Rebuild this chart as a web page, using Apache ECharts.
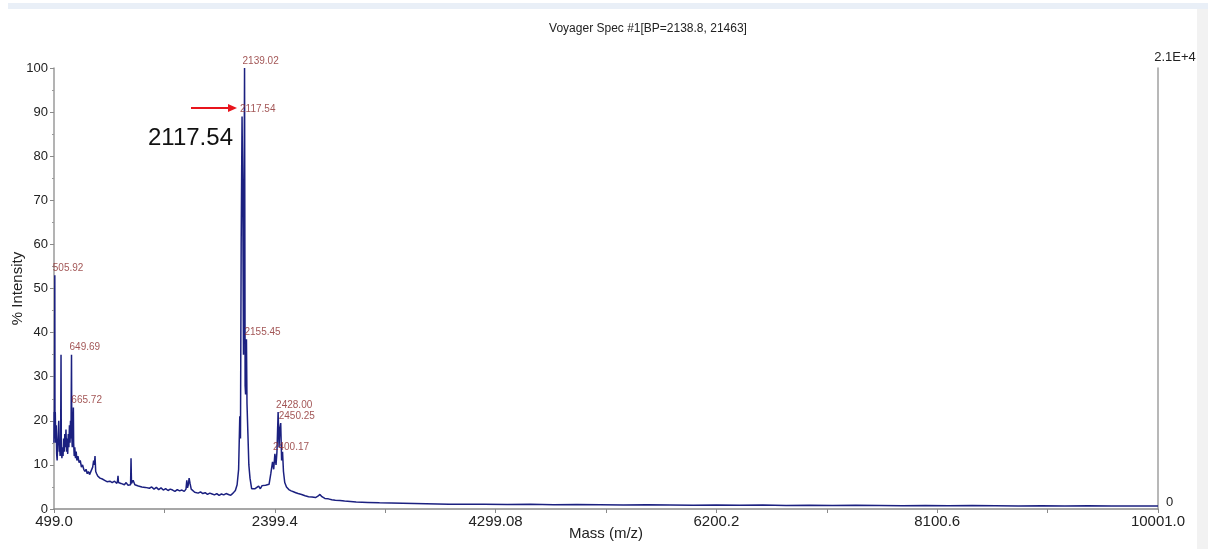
<!DOCTYPE html>
<html>
<head>
<meta charset="utf-8">
<script src="https://cdn.jsdelivr.net/npm/echarts@6/dist/echarts.min.js"></script>
<style>
html,body{margin:0;padding:0;background:#fff;}
#chart{width:1208px;height:549px;}
</style>
</head>
<body>
<div id="chart"></div>
<script>
// ---- Data ----
const massValues = [
  499, 500, 502, 503.5, 505.92, 507.5, 510, 514, 518, 522, 526, 530, 535, 540, 545, 548, 552, 556, 559.5, 562,
  567, 572, 577, 582, 587, 592, 597, 602, 607, 612, 617, 622, 627, 632, 637, 641, 645, 649.69, 652, 656,
  660, 665.72, 668, 673, 678, 684, 690, 696, 705, 715, 725, 735, 745, 755, 765, 775, 785, 795, 805, 820,
  832, 840, 846, 852, 858, 866, 875, 885, 895, 905, 915, 925, 935, 945, 955, 965, 980, 1000, 1020, 1040,
  1046, 1050, 1054, 1075, 1090, 1105, 1120, 1135, 1150, 1158, 1162, 1166, 1180, 1195, 1210, 1225, 1240, 1255, 1270, 1285,
  1300, 1320, 1340, 1360, 1380, 1400, 1420, 1440, 1460, 1480, 1500, 1520, 1540, 1560, 1580, 1600, 1620, 1635, 1642, 1648,
  1655, 1662, 1670, 1680, 1695, 1710, 1725, 1740, 1760, 1780, 1800, 1820, 1840, 1860, 1880, 1900, 1920, 1940, 1960, 1980,
  2000, 2020, 2040, 2060, 2075, 2088, 2098, 2104, 2110, 2117.54, 2124, 2130, 2139.02, 2144, 2148, 2155.45, 2160, 2168, 2176, 2186,
  2200, 2215, 2230, 2245, 2260, 2275, 2290, 2305, 2320, 2335, 2350, 2365, 2380, 2390, 2400.17, 2410, 2418, 2428.00, 2436, 2442,
  2450.25, 2458, 2466, 2474, 2485, 2500, 2520, 2540, 2560, 2580, 2600, 2630, 2660, 2690, 2720, 2750, 2770, 2788, 2805, 2830,
  2860, 2890, 2920, 2960, 3000, 3050, 3100, 3150, 3200, 3300, 3400, 3500, 3600, 3700, 3800, 3900, 4000, 4200, 4400, 4600,
  4800, 5000, 5200, 5400, 5600, 5800, 6000, 6200, 6400, 6600, 6800, 7000, 7200, 7400, 7600, 7800, 8000, 8200, 8400, 8600,
  8800, 9000, 9200, 9400, 9600, 9800, 10001
];
const intensityValues = [
  15, 22, 16, 24, 53, 18, 22, 15, 19, 12.5, 11, 14, 17, 20, 13, 14, 12, 15, 35, 14,
  11.5, 14, 12, 16, 13, 17, 14, 18, 13, 16, 12.5, 17, 14, 19, 15, 20, 16, 35, 17, 14,
  18, 23, 15, 12, 14, 11.5, 13, 11, 12, 10.5, 11, 9.5, 10, 9, 8.5, 9, 8, 8.5, 7.8, 8,
  9.5, 11, 10, 12, 8.5, 8, 7.5, 7.8, 7, 7.2, 6.8, 7, 6.5, 6.8, 6.2, 6.5, 6.3, 6, 6.3, 5.8,
  6.4, 7.5, 6, 5.8, 6.2, 5.5, 6, 5.4, 5.6, 5.5, 11.5, 5.8, 6.5, 5.5, 5.8, 5.2, 5.6, 5, 5.4, 4.9,
  5.2, 4.7, 5, 4.5, 4.9, 4.4, 4.8, 4.3, 4.6, 4.2, 4.5, 4.3, 4, 4.4, 4.1, 4.3, 4, 4.5, 6.5, 4.8,
  5.5, 7, 5.8, 4.5, 4.2, 3.8, 4, 3.6, 3.9, 3.5, 3.7, 3.3, 3.6, 3.4, 3.2, 3.5, 3.1, 3.4, 3.2, 3.5,
  3.3, 3.1, 3.6, 4.2, 5.5, 9, 21, 16, 60, 89, 70, 35, 100, 28, 26, 38.5, 24, 17, 10, 7,
  4.6, 4.2, 4.6, 4.8, 5.2, 4.6, 5.3, 4.9, 5.4, 5, 5.6, 8, 10.7, 9, 12.5, 10, 13, 22, 14, 18,
  19.5, 11, 13, 8.5, 6, 5, 4.4, 4.1, 3.9, 3.7, 3.5, 3.3, 3.0, 2.8, 2.7, 2.6, 2.9, 3.3, 2.8, 2.4,
  2.3, 2.1, 2.0, 1.9, 1.8, 1.7, 1.6, 1.55, 1.5, 1.4, 1.35, 1.3, 1.25, 1.2, 1.15, 1.1, 1.1, 1.05, 1.0, 1.05,
  0.95, 1.0, 0.95, 0.9, 0.95, 0.9, 0.85, 0.9, 0.85, 0.9, 0.8, 0.85, 0.8, 0.85, 0.8, 0.75, 0.8, 0.75, 0.8, 0.75,
  0.7, 0.75, 0.7, 0.75, 0.7, 0.7, 0.7
];
const peakMasses = [505.92, 649.69, 665.72, 2117.54, 2139.02, 2155.45, 2400.17, 2428.00, 2450.25];
const peakHeights = [53, 35, 23, 89, 100, 38.5, 12.5, 22, 19.5];
const peakTexts = ['505.92', '649.69', '665.72', '2117.54', '2139.02', '2155.45', '2400.17', '2428.00', '2450.25'];

const xTickValues = [499, 2399.4, 4299.8, 6200.2, 8100.6, 10001];
const xTickLabels = ['499.0', '2399.4', '4299.08', '6200.2', '8100.6', '10001.0'];
const xAllTickValues = [499, 1449.2, 2399.4, 3349.6, 4299.8, 5250, 6200.2, 7150.4, 8100.6, 9050.8, 10001];

const titleText = 'Voyager Spec #1[BP=2138.8, 21463]';
const xName = 'Mass (m/z)';
const yName = '% Intensity';
const rightTopLabel = '2.1E+4';
const annotationText = '2117.54';

// ---- Build chart ----
const spectrum = massValues.map((m, i) => [m, intensityValues[i]]);
const peaks = peakMasses.map((m, i) => ({ value: [m, peakHeights[i]], name: peakTexts[i] }));

const FONT = '"Liberation Sans", Arial, sans-serif';
const chart = echarts.init(document.getElementById('chart'), null, { renderer: 'canvas' });

chart.setOption({
  animation: false,
  backgroundColor: '#ffffff',
  title: {
    text: titleText,
    left: 643,
    top: 18,
    textAlign: 'center',
    textStyle: { fontFamily: FONT, fontSize: 12, fontWeight: 'normal', color: '#222' }
  },
  grid: { left: 54, right: 50, top: 68, bottom: 40, containLabel: false, outerBoundsMode: 'none' },
  xAxis: {
    type: 'value',
    min: 499,
    max: 10001,
    name: xName,
    nameLocation: 'middle',
    nameGap: 17,
    nameMoveOverlap: false,
    nameTextStyle: { fontFamily: FONT, fontSize: 15, color: '#222', padding: [0, 0, 0, 0] },
    axisLine: { show: true, onZero: false, lineStyle: { color: '#8a8a8a', width: 1.5 } },
    axisTick: { show: true, inside: false, length: 4, customValues: xAllTickValues, lineStyle: { color: '#8a8a8a' } },
    axisLabel: {
      customValues: xTickValues,
      margin: 5,
      fontFamily: FONT, fontSize: 15, color: '#222',
      formatter: function (v) {
        const idx = xTickValues.findIndex(t => Math.abs(t - v) < 0.01);
        return idx >= 0 ? xTickLabels[idx] : '';
      }
    },
    splitLine: { show: false }
  },
  yAxis: [
    {
      type: 'value',
      min: 0,
      max: 100,
      interval: 10,
      name: yName,
      nameLocation: 'middle',
      nameGap: 29,
      nameMoveOverlap: false,
      nameTextStyle: { fontFamily: FONT, fontSize: 15, color: '#222' },
      axisLine: { show: true, lineStyle: { color: '#9a9a9a', width: 1.5 } },
      axisTick: { show: true, inside: false, length: 4, lineStyle: { color: '#8a8a8a' } },
      minorTick: { show: true, splitNumber: 2, length: 2, lineStyle: { color: '#9a9a9a' } },
      axisLabel: { fontFamily: FONT, fontSize: 13, color: '#222', margin: 6 },
      splitLine: { show: false }
    },
    {
      type: 'value',
      position: 'right',
      min: 0,
      max: 100,
      name: rightTopLabel,
      nameLocation: 'end',
      nameGap: 4,
      nameTextStyle: { fontFamily: FONT, fontSize: 13, color: '#222', align: 'center', padding: [0, 0, 0, 34] },
      axisLine: { show: true, lineStyle: { color: '#a0a0a0', width: 1.5 } },
      axisTick: { show: false },
      axisLabel: { customValues: [0], fontFamily: FONT, fontSize: 13, color: '#222', margin: 8, verticalAlign: 'bottom' },
      splitLine: { show: false }
    }
  ],
  series: [
    {
      type: 'line',
      data: spectrum,
      showSymbol: false,
      symbol: 'none',
      lineStyle: { color: '#1b2080', width: 1.5 },
      z: 2
    },
    {
      type: 'scatter',
      data: peaks,
      symbolSize: 0,
      z: 4,
      label: {
        show: true,
        position: 'right',
        distance: 0,
        offset: [-2, -7],
        formatter: p => p.name,
        fontFamily: FONT,
        fontSize: 10,
        color: '#8b2a2a'
      }
    }
  ],
  graphic: [
    { type: 'rect', shape: { x: 8, y: 3, width: 1200, height: 6 }, style: { fill: '#e9eff7' }, z: 0, silent: true },
    { type: 'rect', shape: { x: 1197, y: 9, width: 11, height: 540 }, style: { fill: '#f2f2f2' }, z: 0, silent: true },
    { type: 'line', shape: { x1: 191, y1: 108, x2: 230, y2: 108 }, style: { stroke: '#e8141c', lineWidth: 2 }, z: 10 },
    { type: 'polygon', shape: { points: [[228, 104], [237, 108], [228, 112]] }, style: { fill: '#e8141c' }, z: 10 },
    { type: 'text', x: 148, y: 138, style: { text: annotationText, fontFamily: FONT, fontSize: 24, fill: '#111', textVerticalAlign: 'middle' }, z: 10 }
  ]
});
</script>
</body>
</html>
